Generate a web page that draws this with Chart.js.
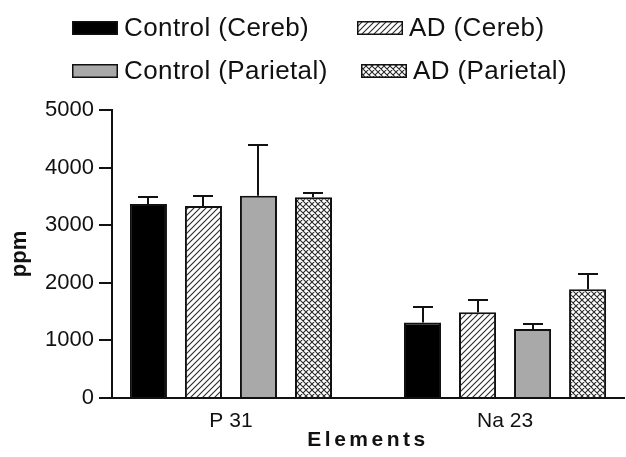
<!DOCTYPE html>
<html><head><meta charset="utf-8">
<script src="https://cdn.jsdelivr.net/npm/chart.js@4/dist/chart.umd.min.js"></script>
<style>html,body{margin:0;padding:0;background:#fff}#wrap{width:626px;height:457px}</style>
</head><body><div id="wrap"><canvas id="c" width="626" height="457"></canvas></div>
<script>
// ---- data ----
const categories = ['P 31', 'Na 23'];
const seriesNames = ['Control (Cereb)', 'AD (Cereb)', 'Control (Parietal)', 'AD (Parietal)'];
const controlCereb = [3370, 1310];
const adCereb = [3335, 1490];
const controlParietal = [3510, 1200];
const adParietal = [3485, 1890];
const controlCerebErr = [125, 268];
const adCerebErr = [165, 208];
const controlParietalErr = [886, 87];
const adParietalErr = [80, 266];
const yTickValues = [0, 1000, 2000, 3000, 4000, 5000];
const xAxisTitle = 'Elements';
const yAxisTitle = 'ppm';

// ---- patterns ----
function makePattern(kind) {
  const s = 6;
  const c = document.createElement('canvas');
  c.width = s; c.height = s;
  const g = c.getContext('2d');
  g.fillStyle = '#fff'; g.fillRect(0, 0, s, s);
  g.strokeStyle = '#2a2a2a'; g.lineWidth = 1.1;
  g.beginPath();
  g.moveTo(-1, s + 1); g.lineTo(s + 1, -1);
  g.moveTo(-1, 1); g.lineTo(1, -1);
  g.moveTo(s - 1, s + 1); g.lineTo(s + 1, s - 1);
  if (kind === 'cross') {
    g.moveTo(-1, -1); g.lineTo(s + 1, s + 1);
    g.moveTo(s - 1, -1); g.lineTo(s + 1, 1);
    g.moveTo(-1, s - 1); g.lineTo(1, s + 1);
  }
  g.stroke();
  return g.createPattern(c, 'repeat');
}
const ctx = document.getElementById('c').getContext('2d');
const fills = ['#000000', makePattern('hatch'), '#a9a9a9', makePattern('cross')];
const valueSets = [controlCereb, adCereb, controlParietal, adParietal];
const errSets = [controlCerebErr, adCerebErr, controlParietalErr, adParietalErr];

const datasets = seriesNames.map((name, k) => ({
  label: name,
  data: categories.map((c, i) => ({ x: i + 1, y: valueSets[k][i] })),
  errors: errSets[k],
  backgroundColor: fills[k],
  borderColor: '#111',
  borderWidth: 2,
  borderSkipped: 'bottom',
  categoryPercentage: 0.803,
  barPercentage: 0.673
}));

const FONT = "'Liberation Sans', Arial, sans-serif";

const errorBars = {
  id: 'errorBars',
  afterDatasetsDraw(chart) {
    const c = chart.ctx, y = chart.scales.y;
    c.save();
    c.strokeStyle = '#111'; c.lineWidth = 2;
    chart.data.datasets.forEach((ds, di) => {
      chart.getDatasetMeta(di).data.forEach((bar, i) => {
        const top = Math.round(y.getPixelForValue(ds.data[i].y + ds.errors[i]));
        const bx = Math.round(bar.x);
        c.beginPath();
        c.moveTo(bx, bar.y); c.lineTo(bx, top);
        c.moveTo(bx - 10, top); c.lineTo(bx + 10, top);
        c.stroke();
      });
    });
    c.restore();
  }
};

const legendSlots = [{x: 72, y: 21}, {x: 357, y: 21}, {x: 72, y: 64}, {x: 361, y: 64}];
const customLegend = {
  id: 'customLegend',
  afterDraw(chart) {
    const c = chart.ctx;
    c.save();
    chart.data.datasets.forEach((ds, i) => {
      const s = legendSlots[i];
      c.fillStyle = ds.backgroundColor;
      c.fillRect(s.x, s.y, 46, 14);
      c.strokeStyle = '#111'; c.lineWidth = 1.5;
      c.strokeRect(s.x + 0.75, s.y + 0.75, 44.5, 12.5);
      c.fillStyle = '#111';
      c.font = '26px ' + FONT;
      c.letterSpacing = '0.4px';
      c.textBaseline = 'middle'; c.textAlign = 'left';
      c.fillText(ds.label, s.x + 52, s.y + 8);
    });
    c.restore();
  }
};

const spacedTitle = {
  id: 'spacedTitle',
  beforeDraw(chart) {
    const s = chart.scales.x;
    if (s && !s._spaced) {
      const orig = s.drawTitle.bind(s);
      s.drawTitle = function () {
        const c = this.ctx; c.save(); c.letterSpacing = '3.5px'; orig(); c.restore();
      };
      s._spaced = true;
    }
  }
};

new Chart(ctx, {
  type: 'bar',
  data: { datasets },
  options: {
    responsive: false,
    animation: false,
    devicePixelRatio: 1,
    layout: { padding: { top: 110, left: 0, right: 2, bottom: 4 } },
    plugins: { legend: { display: false }, tooltip: { enabled: false } },
    scales: {
      x: {
        type: 'linear',
        min: 0.566, max: 2.434,
        offset: false,
        afterBuildTicks: (scale) => { scale.ticks = categories.map((c, i) => ({ value: i + 1 })); },
        afterFit: (scale) => { scale.height = 55; },
        grid: { display: false },
        border: { display: true, color: '#111', width: 2 },
        ticks: {
          callback: (v) => categories[Math.round(v) - 1] || '',
          font: { family: FONT, size: 21 }, color: '#111', padding: 3, maxRotation: 0, autoSkip: false
        },
        title: { display: true, text: xAxisTitle, font: { family: FONT, size: 21, weight: 'bold' }, color: '#111', padding: { top: 0, bottom: 0 } }
      },
      y: {
        min: 0, max: 5000,
        afterBuildTicks: (scale) => { scale.ticks = yTickValues.map(v => ({ value: v })); },
        afterFit: (scale) => { scale.width = 112; },
        grid: { display: true, drawOnChartArea: false, drawTicks: true, tickLength: 13, color: '#111', lineWidth: 2 },
        border: { display: true, color: '#111', width: 2 },
        ticks: { callback: (v) => String(v), font: { family: FONT, size: 22 }, color: '#111', padding: 5 },
        title: { display: true, text: yAxisTitle, font: { family: FONT, size: 22, weight: 'bold' }, color: '#111', padding: { top: 7, bottom: 0 } }
      }
    }
  },
  plugins: [errorBars, customLegend, spacedTitle]
});
</script></body></html>
